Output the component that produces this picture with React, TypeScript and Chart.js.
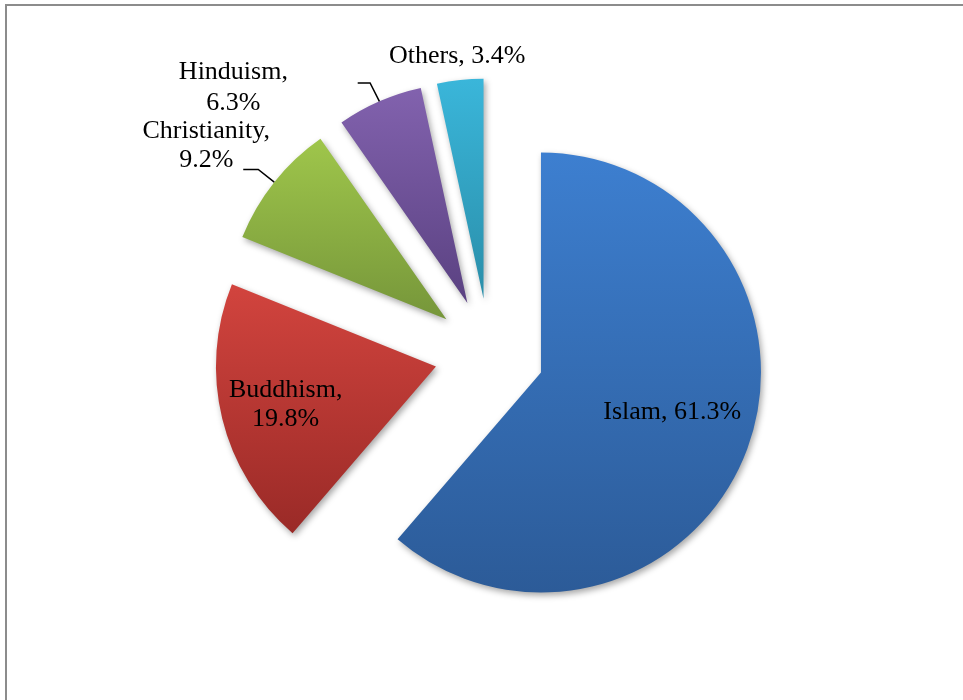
import React, { useEffect, useRef } from "react";
import { Chart, registerables } from "chart.js";

Chart.register(...registerables);

// ---- data ----
const categories = ["Islam", "Buddhism", "Christianity", "Hinduism", "Others"];
const shares = [61.3, 19.8, 9.2, 6.3, 3.4];
const wrapLabel = [false, true, true, true, false];

// ---- styles ----
const topColors = ["#3d7fd0", "#d2443e", "#9fc64b", "#8262ae", "#3ab6da"];
const bottomColors = ["#2c5b98", "#9a2a27", "#76963a", "#5a4181", "#2a8ea9"];

const EXPLODE = 55;
const RADIUS = 220;
const FONT = '26px "Liberation Serif", "Times New Roman", serif';

// label offset from the outer-arc midpoint of each slice, line height, optional leader
const labelLayout = [
  { dx: -75, dy: -36.5, lh: 29, leader: null },
  { dx: 63.5, dy: -14, lh: 29, leader: null },
  { dx: -68, dy: -36.3, lh: 29, leader: { ex: -16, ey: -12.7, h: 15 } },
  { dx: -146, dy: -13.2, lh: 31, leader: { ex: -9.3, ey: -18.4, h: 12.4 } },
  { dx: -2.8, dy: -23.8, lh: 29, leader: null },
];

const explodePlugin = {
  id: "explodeGrad",
  afterDatasetUpdate(chart: any, args: any) {
    const meta = chart.getDatasetMeta(args.index);
    const ctx = chart.ctx;
    meta.data.forEach((el: any, i: number) => {
      const mid = (el.startAngle + el.endAngle) / 2;
      el.x += EXPLODE * Math.cos(mid);
      el.y += EXPLODE * Math.sin(mid);
      let minY = el.y;
      let maxY = el.y;
      for (let k = 0; k <= 60; k++) {
        const a = el.startAngle + ((el.endAngle - el.startAngle) * k) / 60;
        const y = el.y + el.outerRadius * Math.sin(a);
        minY = Math.min(minY, y);
        maxY = Math.max(maxY, y);
      }
      const g = ctx.createLinearGradient(0, minY, 0, maxY);
      g.addColorStop(0, topColors[i]);
      g.addColorStop(1, bottomColors[i]);
      el.options = Object.assign({}, el.options, { backgroundColor: g });
    });
  },
  beforeDatasetsDraw(chart: any) {
    const ctx = chart.ctx;
    ctx.save();
    ctx.shadowColor = "rgba(0,0,0,0.35)";
    ctx.shadowBlur = 6;
    ctx.shadowOffsetX = 2;
    ctx.shadowOffsetY = 3;
  },
  afterDatasetsDraw(chart: any) {
    const ctx = chart.ctx;
    ctx.restore();
    const meta = chart.getDatasetMeta(0);
    ctx.save();
    ctx.font = FONT;
    ctx.fillStyle = "#000";
    ctx.strokeStyle = "#000";
    ctx.lineWidth = 1.5;
    ctx.textAlign = "center";
    ctx.textBaseline = "middle";
    meta.data.forEach((el: any, i: number) => {
      const mid = (el.startAngle + el.endAngle) / 2;
      const ex = el.x + el.outerRadius * Math.cos(mid);
      const ey = el.y + el.outerRadius * Math.sin(mid);
      const lay = labelLayout[i];
      const pct = shares[i].toFixed(1) + "%";
      const lines = wrapLabel[i]
        ? [categories[i] + ",", pct]
        : [categories[i] + ", " + pct];
      const cx = ex + lay.dx;
      const cy = ey + lay.dy;
      lines.forEach((t, j) => {
        ctx.fillText(t, cx, cy + (j - (lines.length - 1) / 2) * lay.lh);
      });
      if (lay.leader) {
        const bx = ex + lay.leader.ex;
        const by = ey + lay.leader.ey;
        ctx.beginPath();
        ctx.moveTo(ex, ey);
        ctx.lineTo(bx, by);
        ctx.lineTo(bx - lay.leader.h, by);
        ctx.stroke();
      }
    });
    ctx.restore();
  },
  beforeDraw(chart: any) {
    const ctx = chart.ctx;
    ctx.save();
    ctx.fillStyle = "#fff";
    ctx.fillRect(0, 0, chart.width, chart.height);
    ctx.strokeStyle = "#8c8c8c";
    ctx.lineWidth = 2;
    ctx.beginPath();
    ctx.moveTo(6, chart.height + 5);
    ctx.lineTo(6, 5);
    ctx.lineTo(chart.width + 5, 5);
    ctx.stroke();
    ctx.restore();
  },
};

export default function App() {
  const ref = useRef<HTMLCanvasElement>(null);
  useEffect(() => {
    if (!ref.current) return;
    const chart = new Chart(ref.current, {
      type: "pie",
      data: {
        labels: categories,
        datasets: [
          {
            data: shares,
            backgroundColor: topColors,
            borderWidth: 0,
            hoverOffset: 0,
          },
        ],
      },
      options: {
        responsive: false,
        animation: false,
        radius: RADIUS,
        layout: { padding: { left: 20, right: 4.2, top: 10, bottom: 3.2 } },
        plugins: {
          legend: { display: false },
          tooltip: { enabled: false },
        },
        events: [],
      } as any,
      plugins: [explodePlugin as any],
    });
    return () => chart.destroy();
  }, []);
  return (
    <div style={{ position: "absolute", left: 0, top: 0, width: 963, height: 700 }}>
      <canvas ref={ref} width={963} height={700} style={{ display: "block" }} />
    </div>
  );
}
